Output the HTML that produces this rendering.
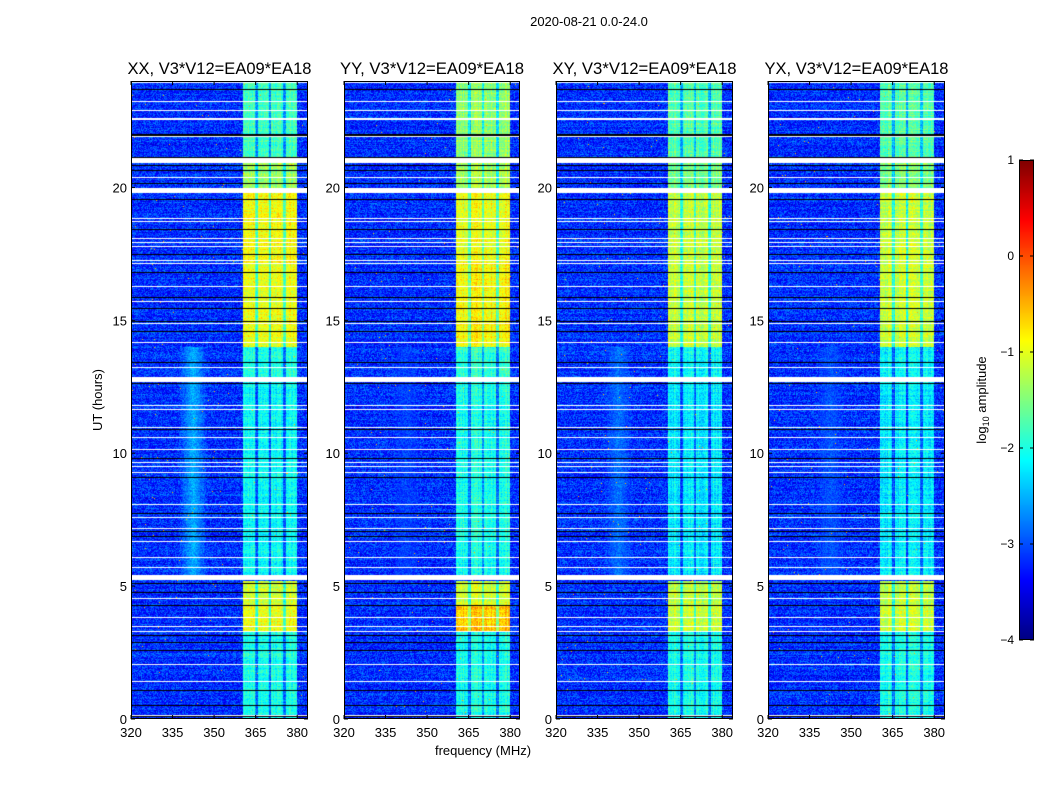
<!DOCTYPE html>
<html><head><meta charset="utf-8">
<style>
body{margin:0;background:#fff;width:1050px;height:800px;overflow:hidden;position:relative;font-family:"Liberation Sans","DejaVu Sans",sans-serif;}
canvas{position:absolute;}
svg{position:absolute;left:0;top:0;}
</style></head>
<body>
<canvas id="p0" width="177" height="638" style="left:131px;top:81px"></canvas>
<canvas id="p1" width="176" height="638" style="left:344px;top:81px"></canvas>
<canvas id="p2" width="177" height="638" style="left:556px;top:81px"></canvas>
<canvas id="p3" width="177" height="638" style="left:768px;top:81px"></canvas>
<canvas id="cb" width="15" height="480" style="left:1019px;top:160px"></canvas>
<svg id="ov" width="1050" height="800"></svg>
<script>
// ---- data ----
const panelTitles = ["XX, V3*V12=EA09*EA18","YY, V3*V12=EA09*EA18","XY, V3*V12=EA09*EA18","YX, V3*V12=EA09*EA18"];
const xTicks = [320,335,350,365,380];
const yTicks = [0,5,10,15,20];
const cbTicks = [1,0,-1,-2,-3,-4];
const segStart = [0,3.3,4.3,5.4,12.8,14.0,17.2,19.9,21.0];
const segEnd   = [3.3,4.25,5.2,12.7,14.0,17.2,19.8,21.0,24];
const levelXX = [-2.0,-0.95,-1.1,-2.1,-2.0,-0.95,-0.9,-1.4,-1.8];
const levelYY = [-2.0,-0.6,-1.1,-2.0,-1.9,-0.85,-0.95,-1.3,-1.4];
const levelXY = [-2.0,-1.1,-1.2,-2.2,-2.1,-1.15,-1.15,-1.5,-1.7];
const levelYX = [-2.0,-1.1,-1.2,-2.2,-2.1,-1.15,-1.15,-1.5,-1.7];
const levels = [levelXX,levelYY,levelXY,levelYX];
const humpLevel = [-2.5,-3.05,-2.8,-2.95];
const whiteRows = [23.97,23.25,22.91,22.6,21.93,20.39,18.85,18.74,18.1,17.95,17.8,17.27,17.16,16.29,15.73,14.9,14.18,13.24,11.81,11.66,10.99,10.61,10.16,9.67,9.52,9.29,8.09,7.6,7.19,6.7,6.09,5.72,4.55,3.84,3.5,3.31,2.07,1.43,0.15];
const thickWhite = [21.03,19.9,12.79,5.34];
const blackRows = [23.7,22.0,21.14,20.84,20.65,20.17,19.56,18.43,17.5,16.82,15.88,15.46,14.97,14.6,13.43,12.64,10.91,9.82,9.1,7.75,7.07,6.88,5.12,4.78,4.29,3.16,2.9,2.6,1.09,0.53,0.11];
const bandLo = 360.5, bandHi = 380, gaps = [365.2,370.2,375.3];

const pxPerMHz = 2.77, pxPerHour = 26.58;
const fx = f => (f-320)*pxPerMHz;
const fy = h => 638 - h*pxPerHour;
const hOfRow = r => (638-r)/pxPerHour;
const fOfCol = c => 320 + c/pxPerMHz;

function jet(v){
  let t=(v+4)/5; t=Math.max(0,Math.min(1,t));
  const c=x=>Math.round(255*Math.max(0,Math.min(1,1.5-Math.abs(4*t-x))));
  return [c(3),c(2),c(1)];
}
function hash(a,b,s){let h=(a*374761393+b*668265263+s*2147483647)|0;h=(h^(h>>>13))*1274126177|0;h=h^(h>>>16);return ((h>>>0)%10000)/10000;}

function draw(pi){
  const cv=document.getElementById('p'+pi), ctx=cv.getContext('2d');
  const W=cv.width,H=cv.height, img=ctx.createImageData(W,H), d=img.data;
  const lv=levels[pi];
  const colOff=[]; for(let c=0;c<W;c++) colOff.push((hash(c,3,pi)-0.5)*0.35);
  for(let r=0;r<H;r++){
    const h=hOfRow(r+0.5);
    let seg=-1; for(let i=0;i<segStart.length;i++) if(h>=segStart[i]&&h<segEnd[i]) seg=i;
    let white=false, black=false;
    for(const w of whiteRows) if(Math.abs(fy(w)-r)<0.8) white=true;
    for(const w of thickWhite) if(Math.abs(fy(w)-r)<2.2) white=true;
    for(const b of blackRows) if(Math.abs(fy(b)-r)<0.8) black=true;
    const rowOff=(hash(r,7,pi)-0.5)*0.25;
    for(let c=0;c<W;c++){
      const f=fOfCol(c+0.5); const k=(r*W+c)*4;
      if(white){d[k]=d[k+1]=d[k+2]=255;d[k+3]=255;continue;}
      if(black){d[k]=d[k+1]=d[k+2]=0;d[k+3]=255;continue;}
      let v=-3.15+rowOff+(hash(r,c,pi+3)-0.5)*0.8;
      if(h>5.4&&h<14&&f>337&&f<348){const hv=humpLevel[pi]+(hash(r,c,pi+9)-0.5)*0.5; const wgt=1-Math.abs(f-342.5)/5.5; v=v+(hv-v)*Math.max(0,wgt);}
      if(f>bandLo&&f<bandHi&&seg>=0){
        let bv=lv[seg]+(hash(r,c,pi+11)-0.5)*0.5+rowOff+colOff[c];
        for(const g of gaps) if(Math.abs(f-g)<0.5) bv-=0.8;
        v=bv;
      }
      if(hash(r,c,pi+21)>0.9985) v=-0.5;
      const col=jet(v); d[k]=col[0];d[k+1]=col[1];d[k+2]=col[2];d[k+3]=255;
    }
  }
  ctx.putImageData(img,0,0);
}
for(let i=0;i<4;i++) draw(i);
(function(){const cv=document.getElementById('cb'),ctx=cv.getContext('2d');for(let r=0;r<480;r++){const v=1-5*r/480;const c=jet(v);ctx.fillStyle=`rgb(${c})`;ctx.fillRect(0,r,15,1);}})();

const NS="http://www.w3.org/2000/svg", ov=document.getElementById('ov');
function mk(tag,attrs,txt){const e=document.createElementNS(NS,tag);for(const k in attrs)e.setAttribute(k,attrs[k]);if(txt!==undefined)e.textContent=txt;ov.appendChild(e);return e;}
const panelX=[131,344,556,768], panelW=[177,176,177,177];
const suptitle=mk('text',{x:589,y:26,'text-anchor':'middle','font-size':13},'2020-08-21 0.0-24.0');


for(let p=0;p<4;p++){
  const x0=panelX[p];
  const fr=mk('rect',{x:x0+0.5,y:81.5,width:panelW[p]-1,height:637,fill:'none',stroke:'#000','stroke-width':1});
  
  
  const t=mk('text',{x:x0+panelW[p]/2,y:74,'text-anchor':'middle','font-size':16.5,textLength:184,lengthAdjust:'spacingAndGlyphs'},panelTitles[p]);
  
  
  for(const f of xTicks){
    const x=x0+fx(f);
    mk('line',{x1:x,x2:x,y1:719,y2:715,stroke:'#000'});
    mk('line',{x1:x,x2:x,y1:81,y2:85,stroke:'#000'});
    const l=mk('text',{x:x,y:737,'text-anchor':'middle','font-size':13},String(f));
    
    
  }
  for(const h of yTicks){
    const y=81+fy(h);
    mk('line',{x1:x0,x2:x0+4,y1:y,y2:y,stroke:'#000'});
    mk('line',{x1:x0+panelW[p],x2:x0+panelW[p]-4,y1:y,y2:y,stroke:'#000'});
    const l=mk('text',{x:x0-4,y:y+5,'text-anchor':'end','font-size':13},String(h));
    
    
  }
}
const yl=mk('text',{x:102,y:400,'text-anchor':'middle','font-size':13,transform:'rotate(-90 102 400)'},'UT (hours)');


const xl=mk('text',{x:483,y:755,'text-anchor':'middle','font-size':13},'frequency (MHz)');


mk('rect',{x:1019.5,y:160.5,width:14,height:479,fill:'none',stroke:'#000'});
for(const v of cbTicks){
  const y=160+(1-v)*96;
  mk('line',{x1:1019,x2:1023,y1:y,y2:y,stroke:'#000'});
  mk('line',{x1:1034,x2:1030,y1:y,y2:y,stroke:'#000'});
  const l=mk('text',{x:1014,y:y+4,'text-anchor':'end','font-size':12},v<0?'\u2212'+(-v):String(v));
  
  
}
const cl=mk('text',{x:986,y:400,'text-anchor':'middle','font-size':13,transform:'rotate(-90 986 400)'});


cl.innerHTML='log<tspan font-size="9" dy="3">10</tspan><tspan dy="-3"> amplitude</tspan>';
</script>
</body></html>
